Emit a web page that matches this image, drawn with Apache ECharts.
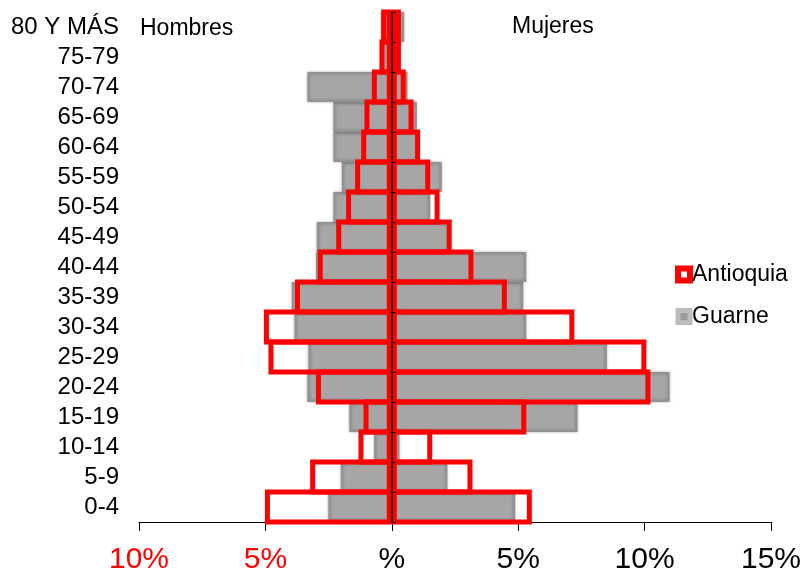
<!DOCTYPE html>
<html>
<head>
<meta charset="utf-8">
<script src="https://cdn.jsdelivr.net/npm/echarts@6/dist/echarts.min.js"></script>
<style>
  html, body { margin: 0; padding: 0; background: #fff; }
  #main { width: 806px; height: 573px; }
</style>
</head>
<body>
<div id="main"></div>
<script>
// grupos de edad, de abajo hacia arriba
let edades = ['0-4','5-9','10-14','15-19','20-24','25-29','30-34','35-39','40-44','45-49','50-54','55-59','60-64','65-69','70-74','75-79','80 Y MÁS'];
// porcentajes (hombres en negativo)
let antioquiaHombres = [-5.02,-3.23,-1.32,-1.12,-3.0,-4.88,-5.06,-3.83,-2.93,-2.2,-1.81,-1.45,-1.21,-1.08,-0.79,-0.49,-0.42];
let antioquiaMujeres = [5.54,3.19,1.6,5.32,10.23,10.07,7.22,4.55,3.23,2.37,1.89,1.52,1.12,0.86,0.55,0.36,0.36];
let guarneHombres = [-2.51,-2.02,-0.7,-1.68,-3.34,-3.3,-3.85,-3.96,-3.0,-2.97,-2.31,-1.98,-2.31,-2.31,-3.34,-0.4,-0.42];
let guarneMujeres = [4.88,2.2,0.3,7.35,10.99,8.51,5.32,5.2,5.32,2.31,1.52,1.98,1.05,0.99,0.62,0.26,0.49];
// etiquetas del eje x
let xTicks = [-10,-5,0,5,10,15];
let xTickLabels = ['10%','5%','%','5%','10%','15%'];

let fuente = 'Liberation Sans, Arial, sans-serif';

// eje auxiliar: solo la linea central con marcas cada media banda
let marcas = [];
for (let i = 0; i < edades.length * 2; i++) marcas.push('');

let estiloGuarne = {
    color: '#a6a6a6',
    borderColor: '#939393',
    borderWidth: 2,
    shadowColor: 'rgba(0,0,0,0.25)',
    shadowBlur: 3
};
let estiloAntioquia = {
    color: 'rgba(0,0,0,0)',
    borderColor: '#ff0000',
    borderWidth: 5
};

let option = {
    animation: false,
    textStyle: { fontFamily: fuente },
    grid: { left: 139, right: 35, top: 12, bottom: 51, outerBoundsMode: 'none' },
    legend: {
        orient: 'vertical',
        left: 670,
        top: 258,
        itemWidth: 12,
        itemHeight: 12,
        itemGap: 19,
        data: [
            { name: 'Antioquia', icon: 'rect', itemStyle: { color: '#fff', borderColor: '#ff0000', borderWidth: 6 } },
            { name: 'Guarne', icon: 'rect', itemStyle: { color: '#999', borderColor: '#bcbcbc', borderWidth: 5 } }
        ],
        textStyle: { fontSize: 23, color: '#000', fontFamily: fuente, padding: [0,0,0,-3] }
    },
    xAxis: {
        type: 'value',
        min: -10,
        max: 15,
        interval: 5,
        splitLine: { show: false },
        axisLine: { show: true, lineStyle: { color: '#000', width: 1 } },
        axisTick: { show: true, length: 9, lineStyle: { color: '#000' } },
        axisLabel: {
            fontSize: 30,
            margin: 23,
            fontFamily: fuente,
            color: function (v) { return v < 0 ? '#ff0000' : '#000'; },
            formatter: function (v) { return xTickLabels[xTicks.indexOf(v)]; }
        }
    },
    yAxis: [
        {
            type: 'category',
            data: edades,
            axisLine: { show: false, onZero: false },
            axisTick: { show: false },
            axisLabel: { interval: 0, fontSize: 24, color: '#000', margin: 20, fontFamily: fuente }
        },
        {
            type: 'category',
            position: 'right',
            data: marcas,
            z: 10,
            axisLine: { show: true, onZero: true, lineStyle: { color: '#000', width: 1.5 } },
            axisTick: { show: true, length: 4, lineStyle: { color: '#000' } },
            axisLabel: { show: false }
        },
        {
            // mismo eje de edades, solo para los recuadros rojos
            type: 'category',
            data: edades,
            show: false
        }
    ],
    graphic: [
        { type: 'text', x: 140, y: 29, style: { text: 'Hombres', fontSize: 23, fill: '#000', fontFamily: fuente, verticalAlign: 'middle' } },
        { type: 'text', x: 512, y: 27, style: { text: 'Mujeres', fontSize: 23, fill: '#000', fontFamily: fuente, verticalAlign: 'middle' } }
    ],
    series: [
        { name: 'Guarne', type: 'bar', data: guarneHombres, barGap: '-100%', barCategoryGap: '0%', itemStyle: estiloGuarne },
        { name: 'Guarne', type: 'bar', data: guarneMujeres, barGap: '-100%', barCategoryGap: '0%', itemStyle: estiloGuarne },
        { name: 'Antioquia', type: 'bar', yAxisIndex: 2, data: antioquiaHombres, barGap: '-100%', barWidth: 35, itemStyle: estiloAntioquia },
        { name: 'Antioquia', type: 'bar', yAxisIndex: 2, data: antioquiaMujeres, barGap: '-100%', barWidth: 35, itemStyle: estiloAntioquia }
    ]
};

let grafico = echarts.init(document.getElementById('main'));
grafico.setOption(option);
</script>
</body>
</html>
